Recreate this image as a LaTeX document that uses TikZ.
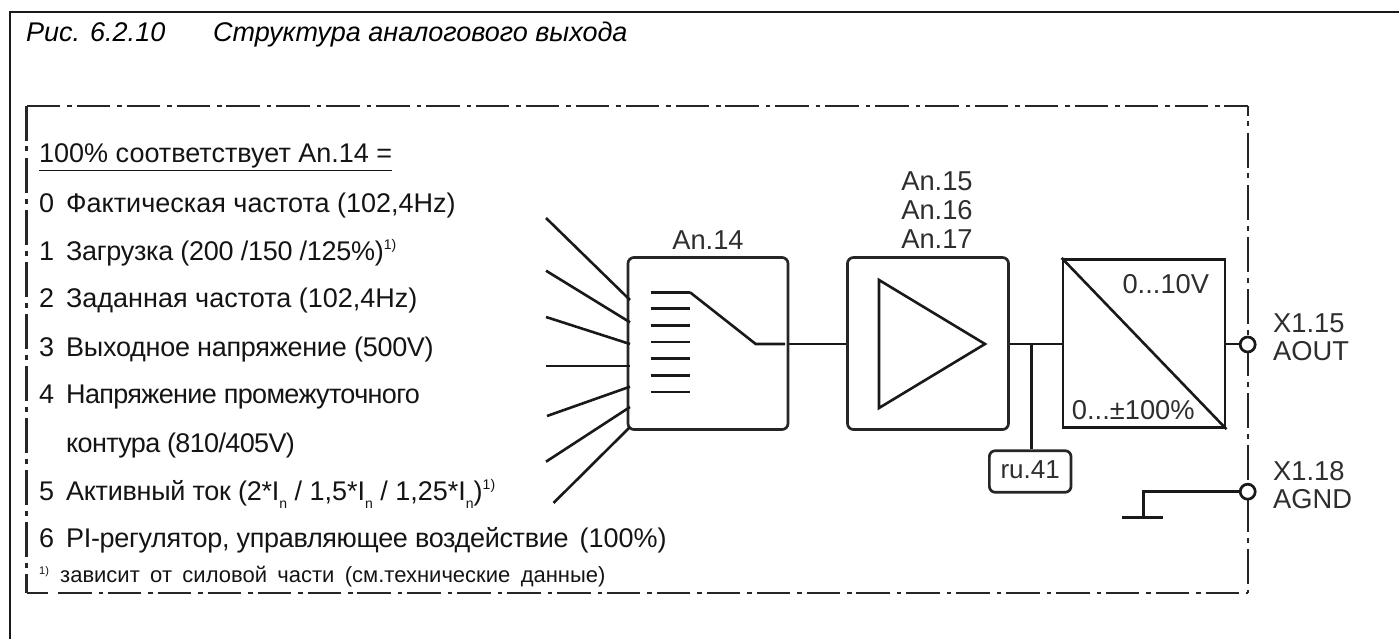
\documentclass[tikz,border=0pt]{standalone}
\usepackage{fontspec}
\setmainfont{Liberation Sans}
\newcommand{\sz}[1]{\fontsize{#1}{#1}\selectfont}
\newcommand{\supa}{\raisebox{10.5pt}{\sz{14}1)}}
\newcommand{\subn}{\raisebox{-8pt}{\sz{14}n}}
\newcommand{\itm}[2]{\makebox[27pt][l]{#1}#2}
\newcommand{\tgt}[2]{{\addfontfeature{LetterSpace=#1}#2}}
\tikzset{
  x=1pt,y=-1pt,
  frameline/.style={line width=2.7pt,black!90},
  dashh/.style={line width=2.8pt,black!85,dash pattern=on 33.5pt off 7pt on 4.5pt off 4.9pt},
  dashv/.style={line width=2.8pt,black!85,dash pattern=on 35pt off 5.5pt on 5pt off 6.5pt},
  wire/.style={line width=2.6pt,black!90},
  blockbox/.style={draw=black!85,line width=2.7pt,rounded corners=6pt,minimum height=172pt,inner sep=0pt},
  listitem/.style={anchor=base west,inner sep=0pt,text=black!92,font=\sz{27}},
  lab/.style={anchor=base,inner sep=0pt,text=black!82,font=\sz{27.3}},
  term/.style={circle,draw=black!90,fill=white,line width=2.7pt,minimum size=15pt,inner sep=0pt},
}
\begin{document}
\begin{tikzpicture}
\useasboundingbox (0,0) rectangle (1399,639);
\draw[frameline] (10,639) -- (10,12) -- (1399,12);
\node[anchor=base west,inner sep=0pt,font=\itshape\sz{27}] (title) at (26,42) {\makebox[187pt][l]{Рис. 6.2.10}Структура аналогового выхода};
% dash-dot frame
\coordinate (fa) at (26.8,106);\coordinate (fb) at (1248,106);
\coordinate (fc) at (1248,593);\coordinate (fd) at (26.8,593);
\coordinate (fe) at (58,593);\coordinate (ff) at (48,593);
\draw[dashh] (fa) -- (fb);
\draw[dashv] (fa) -- (fd);
\draw[dashv,dash phase=25pt] (fb) -- (fc);
\draw[dashh] (fe) -- (fc);
\draw[line width=2.8pt,black!85] (fd) -- (ff);
% list
\node[listitem] (h) at (39,163) {\underline{100\% соответствует An.14 =}};
\node[listitem] (i0) at (39,212) {\itm{0}{Фактическая частота (102,4Hz)}};
\node[listitem] (i1) at (39,260) {\itm{1}{\tgt{-1.1}{Загрузка (200 /150 /125\%)}\supa}};
\node[listitem] (i2) at (39,307) {\itm{2}{Заданная частота (102,4Hz)}};
\node[listitem] (i3) at (39,356) {\itm{3}{\tgt{-1}{Выходное напряжение (500V)}}};
\node[listitem] (i4) at (39,403) {\itm{4}{\tgt{-2.4}{Напряжение промежуточного}}};
\node[listitem] (i4b) at (66,452) {\tgt{-2.4}{контура (810/405V)}};
\node[listitem] (i5) at (39,500) {\itm{5}{\tgt{-1.1}{Активный ток (2*I}\subn{} / 1,5*I\subn{} / 1,25*I\subn)\supa}};
\node[listitem] (i6) at (39,547) {\itm{6}{\tgt{-1.2}{PI-регулятор, управляющее воздействие}\hspace{11pt}(100\%)}};
\node[listitem,font=\sz{22}] (fn) at (39,582) {\makebox[21pt][l]{\raisebox{8pt}{\sz{11}1)}}\spaceskip=10.4pt зависит от силовой части (см.технические данные)};
% selector block
\node[blockbox,minimum width=160pt] (sel) at (708,343.5) {};
\node[lab] (l14) at (708,249) {An.14};
\coordinate (c1) at (630,300);\coordinate (c2) at (630,322.3);\coordinate (c3) at (630,344);
\coordinate (c4) at (630,366);\coordinate (c5) at (630,386.7);\coordinate (c6) at (630,407);\coordinate (c7) at (630,427);
\coordinate (s1) at (546,218);\coordinate (s2) at (546,270.7);\coordinate (s3) at (546,317);
\coordinate (s4) at (546,366);\coordinate (s5) at (547,416);\coordinate (s6) at (546,461.7);\coordinate (s7) at (553.5,503);
\foreach \k in {1,...,7}{\draw[wire] (s\k) -- (c\k);}
\foreach \y in {292.3,308.7,325.3,342,358.7,375.3,392}{\draw[wire] (650.7,\y) -- (690,\y);}
\coordinate (sa) at (690,292.3);\coordinate (sb) at (755.7,344);\coordinate (sc) at (785,344);
\draw[wire] (sa) -- (sb) -- (sc);
% amplifier block
\node[blockbox,minimum width=161pt] (amp) at (928,343.5) {};
\node[lab] (l15) at (937,190) {An.15};
\node[lab] (l16) at (937,219) {An.16};
\node[lab] (l17) at (937,248) {An.17};
\coordinate (t1) at (879,280);\coordinate (t2) at (879,408);\coordinate (t3) at (985,344);
\draw[wire] (t1) -- (t2) -- (t3) -- cycle;
\draw[wire] (sel.east |- sc) -- (amp.west |- sc);
% converter
\node[draw=black!90,line width=2.8pt,minimum width=162pt,minimum height=168.4pt,inner sep=0pt] (dac) at (1144,343.5) {};
\draw[wire] (dac.north west) -- (dac.south east);
\node[lab] (v) at (1165.8,293.3) {0...10V};
\node[lab] (p) at (1133.3,419) {0...±100\%};
\node[term] (aout) at (1247.7,344.5) {};
\node[term] (agnd) at (1247.7,491.7) {};
\coordinate (j) at (1031.7,344);
\draw[wire] (amp.east |- j) -- (dac.west |- j);
\draw[wire] (dac.east |- j) -- (aout.west |- j);
% ru.41
\node[draw=black!85,line width=2.7pt,rounded corners=6pt,minimum width=81.7pt,minimum height=41.6pt,inner sep=0pt] (ru) at (1030.2,471.5) {};
\node[lab,font=\sz{26}] (rut) at (1030.2,478.5) {ru.41};
\draw[wire] (j) -- (j |- ru.north);
% ground
\coordinate (g1) at (1143.3,491.7);\coordinate (g2) at (1143.3,517.3);
\coordinate (g3) at (1122.3,517.3);\coordinate (g4) at (1163.3,517.3);
\draw[wire] (agnd) -- (g1) -- (g2);
\draw[wire] (g3) -- (g4);
\node[lab,anchor=base west] (x15) at (1273,332) {X1.15};
\node[lab,anchor=base west] (ao) at (1273,360) {AOUT};
\node[lab,anchor=base west] (x18) at (1273,480) {X1.18};
\node[lab,anchor=base west] (ag) at (1273,508) {AGND};
\end{tikzpicture}
\end{document}
